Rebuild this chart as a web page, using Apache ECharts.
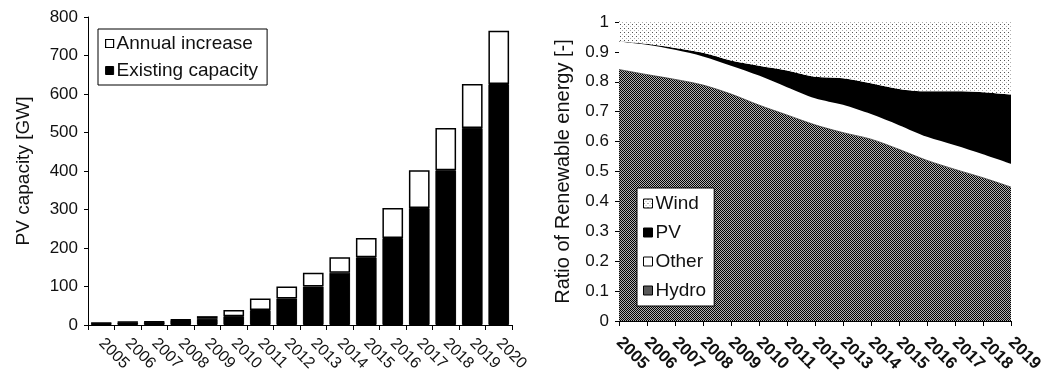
<!DOCTYPE html>
<html>
<head>
<meta charset="utf-8">
<script src="https://cdn.jsdelivr.net/npm/echarts@6/dist/echarts.min.js"></script>
<style>
html,body{margin:0;padding:0;background:#fff;}
#main{width:1048px;height:378px;}
</style>
</head>
<body>
<div id="main"></div>
<script>
// ---- Left chart data (PV capacity, GW) ----
const pvYears = ['2005','2006','2007','2008','2009','2010','2011','2012','2013','2014','2015','2016','2017','2018','2019','2020'];
const existingCapacity = [5, 7, 8, 13, 16, 23, 39, 69, 100, 136, 176, 226, 304, 402, 512, 626];
const annualIncrease   = [1, 1, 1, 1, 7, 16, 30, 31, 36, 40, 50, 78, 98, 110, 114, 138];
const pvTicks = [0, 100, 200, 300, 400, 500, 600, 700, 800];

// ---- Right chart data (ratio of renewable energy) ----
const reYears = ['2005','2006','2007','2008','2009','2010','2011','2012','2013','2014','2015','2016','2017','2018','2019'];
const hydro = [0.841,0.824,0.808,0.789,0.759,0.722,0.689,0.656,0.630,0.608,0.574,0.537,0.507,0.479,0.448];
const other = [0.094,0.100,0.099,0.096,0.095,0.099,0.093,0.089,0.093,0.084,0.081,0.079,0.081,0.079,0.078];
const pv    = [0.001,0.003,0.006,0.012,0.017,0.033,0.056,0.072,0.089,0.103,0.121,0.152,0.180,0.207,0.231];
const wind  = [0.064,0.073,0.087,0.103,0.129,0.146,0.162,0.183,0.188,0.205,0.224,0.232,0.232,0.235,0.243];

// ---- patterns ----
function makePattern(size, bg, dots) {
  const c = document.createElement('canvas');
  c.width = size; c.height = size;
  const ctx = c.getContext('2d');
  ctx.fillStyle = bg; ctx.fillRect(0, 0, size, size);
  dots.forEach(d => { ctx.fillStyle = d[2]; ctx.fillRect(d[0], d[1], 1, 1); });
  return { image: c, repeat: 'repeat' };
}
const hydroPattern = makePattern(2, '#b0b0b0', [[0,0,'#000000'],[1,1,'#000000']]);
const windPattern = makePattern(4, '#ffffff', [[0,0,'#555555'],[2,2,'#b0b0b0']]);

const FONT = 'Liberation Sans, Arial, Helvetica, sans-serif';
const chart = echarts.init(document.getElementById('main'), null, { renderer: 'canvas' });

const option = {
  animation: false,
  backgroundColor: '#fff',
  textStyle: { fontFamily: FONT, color: '#111' },
  grid: [
    { left: 88, top: 17, width: 424, height: 308 },
    { left: 619, top: 22, width: 392, height: 299 }
  ],
  legend: [
    {
      orient: 'vertical', left: 98, top: 29,
      padding: [5, 9, 5, 7], itemGap: 8,
      itemWidth: 8, itemHeight: 8, icon: 'rect',
      borderColor: '#000', borderWidth: 1, backgroundColor: '#fff',
      textStyle: { fontSize: 19, fontFamily: FONT, color: '#111', padding: [0,0,0,-2] },
      data: [
        { name: 'Annual increase', itemStyle: { color: '#fff', borderColor: '#000', borderWidth: 1.2 } },
        { name: 'Existing capacity', itemStyle: { color: '#000', borderColor: '#000', borderWidth: 1 } }
      ]
    },
    {
      orient: 'vertical', left: 637, top: 188,
      padding: [6, 8, 6, 6], itemGap: 10,
      itemWidth: 9, itemHeight: 9, icon: 'rect',
      borderColor: '#000', borderWidth: 1, backgroundColor: '#fff',
      textStyle: { fontSize: 19, fontFamily: FONT, color: '#111', padding: [0,0,0,-2] },
      data: [
        { name: 'Wind', itemStyle: { color: windPattern, borderColor: '#000', borderWidth: 1 } },
        { name: 'PV', itemStyle: { color: '#000', borderColor: '#000', borderWidth: 1 } },
        { name: 'Other', itemStyle: { color: '#fff', borderColor: '#000', borderWidth: 1 } },
        { name: 'Hydro', itemStyle: { color: hydroPattern, borderColor: '#000', borderWidth: 1 } }
      ]
    }
  ],
  xAxis: [
    {
      gridIndex: 0, type: 'category', data: pvYears, boundaryGap: true,
      axisLine: { lineStyle: { color: '#000', width: 1 } },
      axisTick: { show: true, length: 5, lineStyle: { color: '#000' } },
      axisLabel: { rotate: -45, interval: 0, margin: 16, fontSize: 16, color: '#111', fontFamily: FONT }
    },
    {
      gridIndex: 1, type: 'category', data: reYears, boundaryGap: false,
      axisLine: { lineStyle: { color: '#000', width: 1 } },
      axisTick: { show: true, length: 5, lineStyle: { color: '#000' } },
      axisLabel: { rotate: -45, interval: 0, margin: 19, fontSize: 17, fontWeight: 'bold', color: '#111', fontFamily: FONT }
    }
  ],
  yAxis: [
    {
      gridIndex: 0, type: 'value', min: pvTicks[0], max: pvTicks[pvTicks.length - 1], interval: 100,
      name: 'PV capacity [GW]', nameLocation: 'middle', nameGap: 55,
      nameTextStyle: { fontSize: 19, color: '#111', fontFamily: FONT },
      axisLine: { show: true, lineStyle: { color: '#000', width: 1 } },
      axisTick: { show: true, length: 4, lineStyle: { color: '#000' } },
      splitLine: { show: false },
      axisLabel: { fontSize: 17, margin: 10, color: '#111', fontFamily: FONT }
    },
    {
      gridIndex: 1, type: 'value', min: 0, max: 1, interval: 0.1,
      name: 'Ratio of Renewable energy [-]', nameLocation: 'middle', nameGap: 46,
      nameTextStyle: { fontSize: 20, color: '#111', fontFamily: FONT },
      axisLine: { show: true, lineStyle: { color: '#000', width: 1 } },
      axisTick: { show: true, length: 4, lineStyle: { color: '#000' } },
      splitLine: { show: false },
      axisLabel: { fontSize: 17, margin: 10, color: '#111', fontFamily: FONT,
        formatter: v => String(Math.round(v * 10) / 10) }
    }
  ],
  series: [
    {
      name: 'Existing capacity', type: 'bar', xAxisIndex: 0, yAxisIndex: 0, stack: 'pv',
      data: existingCapacity, barCategoryGap: '22%',
      itemStyle: { color: '#000', borderColor: '#000', borderWidth: 1 }
    },
    {
      name: 'Annual increase', type: 'bar', xAxisIndex: 0, yAxisIndex: 0, stack: 'pv',
      data: annualIncrease, barCategoryGap: '22%',
      itemStyle: { color: '#fff', borderColor: '#000', borderWidth: 1.5 }
    },
    {
      name: 'Hydro', type: 'line', xAxisIndex: 1, yAxisIndex: 1, stack: 're',
      data: hydro, smooth: 0.3, showSymbol: false, symbol: 'none',
      lineStyle: { width: 0.8, color: '#333' },
      itemStyle: { color: hydroPattern },
      areaStyle: { color: hydroPattern, opacity: 1 }
    },
    {
      name: 'Other', type: 'line', xAxisIndex: 1, yAxisIndex: 1, stack: 're',
      data: other, smooth: 0.3, showSymbol: false, symbol: 'none',
      lineStyle: { width: 0 },
      itemStyle: { color: '#fff' },
      areaStyle: { color: '#fff', opacity: 1 }
    },
    {
      name: 'PV', type: 'line', xAxisIndex: 1, yAxisIndex: 1, stack: 're',
      data: pv, smooth: 0.3, showSymbol: false, symbol: 'none',
      lineStyle: { width: 0 },
      itemStyle: { color: '#000' },
      areaStyle: { color: '#000', opacity: 1 }
    },
    {
      name: 'Wind', type: 'line', xAxisIndex: 1, yAxisIndex: 1, stack: 're',
      data: wind, smooth: 0.3, showSymbol: false, symbol: 'none',
      lineStyle: { width: 0 },
      itemStyle: { color: windPattern },
      areaStyle: { color: windPattern, opacity: 1 }
    }
  ]
};
chart.setOption(option);
</script>
</body>
</html>
